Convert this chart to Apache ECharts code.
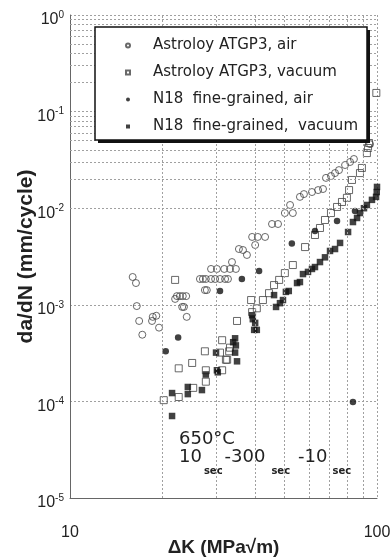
<!DOCTYPE html>
<html>
<head>
<meta charset="utf-8">
<script src="https://cdn.jsdelivr.net/npm/echarts@6/dist/echarts.min.js"></script>
<style>
  html, body { margin: 0; padding: 0; background: #fff; }
  #chart { width: 390px; height: 558px; }
</style>
</head>
<body>
<div id="chart"></div>
<script>
  // [ΔK (MPa√m), da/dN (mm/cycle)]
  var astroloyAir = [
    [16.0, 0.00194], [16.4, 0.00168], [16.5, 0.00097], [16.8, 0.00068], [17.2, 0.00049],
    [18.5, 0.00068], [18.6, 0.00075], [19.1, 0.00077], [19.5, 0.00058],
    [22.0, 0.00115], [22.3, 0.00123], [22.8, 0.00123], [23.3, 0.00123], [23.9, 0.00123],
    [23.2, 0.00095], [23.5, 0.00095], [24.0, 0.00075],
    [26.5, 0.00185], [27.1, 0.00185], [27.7, 0.00185], [28.8, 0.00185], [29.7, 0.00185],
    [30.8, 0.00185], [32.0, 0.00185], [32.7, 0.00185],
    [28.8, 0.00235], [30.1, 0.00235], [31.8, 0.00235], [33.2, 0.00235], [34.7, 0.00235],
    [27.5, 0.00142], [27.9, 0.00142],
    [33.7, 0.00277], [35.5, 0.00378], [36.6, 0.00369], [37.7, 0.00328],
    [39.2, 0.00504], [40.9, 0.00504], [43.2, 0.00504], [40.1, 0.00416],
    [45.5, 0.00686], [47.6, 0.00686], [50.1, 0.00891], [53.2, 0.00891], [52.1, 0.0108],
    [56.1, 0.0131], [57.8, 0.0140], [61.4, 0.0147], [64.3, 0.0154], [66.7, 0.0158],
    [68.2, 0.0206], [70.8, 0.0215], [73.0, 0.0231], [75.2, 0.0248], [78.7, 0.0280],
    [81.7, 0.0301], [84.1, 0.0323], [94.9, 0.046]
  ];
  var astroloyVac = [
    [20.2, 0.000103], [22.6, 0.000111], [25.2, 0.000138], [27.7, 0.00016],
    [22.6, 0.00022], [25.0, 0.00025], [27.7, 0.00021], [31.3, 0.00021], [32.2, 0.00027],
    [30.8, 0.00032], [31.3, 0.00043], [33.0, 0.00033], [33.2, 0.00036], [32.5, 0.00027],
    [27.5, 0.00033], [22.0, 0.00181],
    [35.0, 0.00068], [38.9, 0.00112], [39.2, 0.00084], [42.5, 0.00112], [40.6, 0.00092],
    [44.5, 0.00132], [46.2, 0.00160], [48.0, 0.00181], [50.1, 0.00213], [53.2, 0.00258],
    [58.3, 0.00396], [62.8, 0.00528], [65.2, 0.00624], [67.7, 0.00755], [70.8, 0.00891],
    [74.1, 0.0103], [76.9, 0.0116], [79.8, 0.0128], [81.1, 0.0154], [82.9, 0.0196],
    [88.0, 0.0231], [89.3, 0.0261], [92.7, 0.0372], [93.5, 0.0420], [94.2, 0.0473],
    [99.5, 0.156]
  ];
  var n18Air = [
    [20.5, 0.00033], [22.5, 0.00046], [30.8, 0.00139], [36.3, 0.00185], [41.3, 0.00224],
    [52.8, 0.0043], [62.8, 0.00581], [74.1, 0.00736], [84.8, 0.00936], [83.5, 0.0000986]
  ];
  var n18Vac = [
    [21.5, 0.0000706], [21.5, 0.000122], [24.2, 0.000141], [24.2, 0.000119], [26.9, 0.000131],
    [27.7, 0.00019], [30.1, 0.00021], [30.3, 0.00020], [29.9, 0.00032],
    [34.5, 0.00045], [34.0, 0.00041], [34.7, 0.00038], [34.5, 0.00032], [35.0, 0.00026],
    [39.2, 0.00078], [39.4, 0.00071], [40.1, 0.00065], [39.8, 0.00055], [40.6, 0.00055],
    [46.2, 0.00126], [46.9, 0.00095], [48.3, 0.00104], [49.4, 0.00112], [50.5, 0.00136],
    [51.6, 0.00139], [54.9, 0.00168], [56.1, 0.00172], [57.4, 0.00208], [59.6, 0.00219],
    [61.4, 0.00235], [62.8, 0.00246], [65.2, 0.00277], [67.7, 0.0031],
    [70.3, 0.00361], [73.0, 0.00378], [75.8, 0.00437], [80.5, 0.00567], [83.5, 0.00719],
    [86.1, 0.00792], [88.0, 0.00891], [90.7, 0.0100], [92.7, 0.0108], [96.3, 0.0122],
    [99.3, 0.0131], [99.8, 0.0147], [100, 0.0166]
  ];

  var seriesNames = [
    'Astroloy ATGP3, air',
    'Astroloy ATGP3, vacuum',
    'N18  fine-grained, air',
    'N18  fine-grained,  vacuum'
  ];

  // dotted minor grid lines (2..9 in every decade)
  var mantissas = [2, 3, 4, 5, 6, 7, 8, 9];
  var yDecades = [1e-5, 1e-4, 1e-3, 1e-2, 1e-1];
  var xDecades = [10];
  var yMinor = [];
  yDecades.forEach(function (d) { mantissas.forEach(function (m) { yMinor.push(m * d); }); });
  var xMinor = [];
  xDecades.forEach(function (d) { mantissas.forEach(function (m) { xMinor.push(m * d); }); });

  var gridLine = { color: '#a0a0a0', width: 1, type: [2, 2] };
  var openStyle = { color: 'rgba(0,0,0,0)', borderColor: '#444', borderWidth: 1 };
  var fillStyle = { color: '#111' };

  var chart = echarts.init(document.getElementById('chart'), null, { renderer: 'canvas' });

  var option = {
    animation: false,
    backgroundColor: '#fff',
    textStyle: { fontFamily: 'Liberation Sans' },
    grid: { left: 70, right: 13, top: 15, bottom: 60, containLabel: false, outerBoundsMode: 'none' },
    legend: {
      data: seriesNames,
      orient: 'vertical',
      left: 95,
      top: 27,
      padding: [11, 10, 10, 30],
      itemWidth: 4,
      itemHeight: 4,
      itemGap: 12,
      selectedMode: false,
      z: 20,
      textStyle: { fontFamily: 'DejaVu Sans', fontSize: 15, color: '#222', padding: [0, 0, 0, 18] }
    },
    xAxis: {
      type: 'log',
      logBase: 10,
      min: 10,
      max: 100,
      name: 'ΔK (MPa√m)',
      nameLocation: 'middle',
      nameGap: 40,
      nameMoveOverlap: false,
      nameTextStyle: { fontFamily: 'Liberation Sans', fontSize: 19, fontWeight: 'bold', color: '#222' },
      axisLine: { show: true, lineStyle: { color: '#666', width: 1 } },
      axisTick: { show: false },
      axisLabel: { margin: 27, fontSize: 16, color: '#222', fontFamily: 'Liberation Sans' },
      splitLine: { show: true, lineStyle: gridLine }
    },
    yAxis: {
      type: 'log',
      logBase: 10,
      min: 1e-5,
      max: 1,
      name: 'da/dN (mm/cycle)',
      nameLocation: 'middle',
      nameGap: 33,
      nameMoveOverlap: false,
      nameTextStyle: { fontFamily: 'Liberation Sans', fontSize: 21, fontWeight: 'bold', color: '#222' },
      axisLine: { show: true, lineStyle: { color: '#666', width: 1 } },
      axisTick: { show: false },
      axisLabel: {
        margin: 6,
        color: '#222',
        formatter: function (v) {
          return '{b|10}{s|' + Math.round(Math.log10(v)) + '}';
        },
        rich: {
          b: { fontSize: 16, fontFamily: 'Liberation Sans', color: '#222', padding: [10, 0, 0, 0] },
          s: { fontSize: 10, fontFamily: 'Liberation Sans', color: '#222' }
        }
      },
      splitLine: { show: true, lineStyle: gridLine }
    },
    graphic: [
      { type: 'rect', z: 10, shape: { x: 98, y: 30, width: 272, height: 113 }, style: { fill: '#111' } },
      { type: 'rect', z: 11, shape: { x: 95, y: 27, width: 272, height: 113 }, style: { fill: '#fff', stroke: '#111', lineWidth: 1.5 } },
      {
        type: 'text', z: 12, x: 179, y: 439,
        style: { text: '650°C', fontFamily: 'DejaVu Sans', fontSize: 18, fill: '#222', verticalAlign: 'middle' }
      },
      {
        type: 'text', z: 12, x: 179, y: 457,
        style: {
          text: '{b|10}{s|sec}{m|-300}{s|sec}{e|-10}{s|sec}',
          verticalAlign: 'middle',
          rich: {
            b: { fontFamily: 'DejaVu Sans', fontSize: 18, fill: '#222' },
            m: { fontFamily: 'DejaVu Sans', fontSize: 18, fill: '#222', padding: [0, 4, 0, 0] },
            e: { fontFamily: 'DejaVu Sans', fontSize: 18, fill: '#222', padding: [0, 3, 0, 6] },
            s: { fontFamily: 'DejaVu Sans', fontSize: 10, fontWeight: 'bold', fill: '#222', padding: [28, 2, 0, 2] }
          }
        }
      }
    ],
    series: [
      {
        name: 'minor-grid',
        type: 'scatter',
        data: [],
        silent: true,
        z: 1,
        markLine: {
          silent: true,
          symbol: ['none', 'none'],
          label: { show: false },
          lineStyle: gridLine,
          emphasis: { disabled: true },
          data: yMinor.map(function (v) { return { yAxis: v }; })
            .concat(xMinor.map(function (v) { return { xAxis: v }; }))
        }
      },
      { name: seriesNames[0], type: 'scatter', symbol: 'circle', symbolSize: 7, itemStyle: openStyle, data: astroloyAir },
      { name: seriesNames[1], type: 'scatter', symbol: 'rect', symbolSize: 7, itemStyle: openStyle, data: astroloyVac },
      { name: seriesNames[2], type: 'scatter', symbol: 'circle', symbolSize: 6.5, itemStyle: fillStyle, data: n18Air },
      { name: seriesNames[3], type: 'scatter', symbol: 'rect', symbolSize: 6.5, itemStyle: fillStyle, data: n18Vac }
    ]
  };

  chart.setOption(option);
</script>
</body>
</html>
